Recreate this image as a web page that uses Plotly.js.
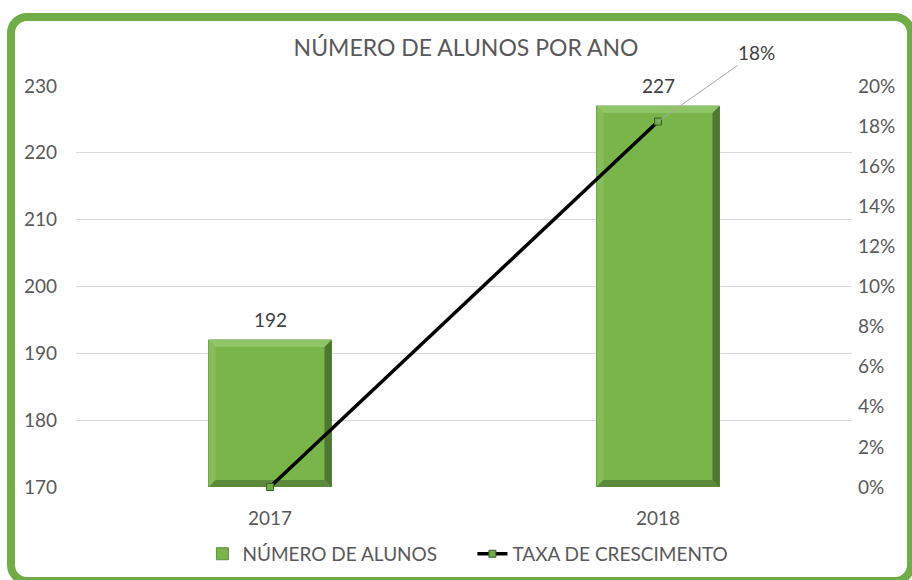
<!DOCTYPE html>
<html>
<head>
<meta charset="utf-8">
<script src="https://cdn.plot.ly/plotly-3.0.1.min.js"></script>
<style>
  html, body { margin: 0; padding: 0; background: #ffffff; overflow: hidden; }
  #frame { position: absolute; left: 7px; top: 13px; width: 908px; height: 572px;
           box-sizing: border-box; border: 8px solid #70AD47; border-radius: 20px; }
  #chart { position: absolute; left: 0; top: 0; width: 912px; height: 580px; }
</style>
</head>
<body>
<div id="frame"></div>
<div id="chart"></div>
<script>
// ---- data ----
const years = ['2017', '2018'];
const students = [192, 227];
const growth = [0, 0.1823];
const growthLabels = ['', '18%'];
const leftTicks = [170, 180, 190, 200, 210, 220, 230];
const rightTicks = [0, 0.02, 0.04, 0.06, 0.08, 0.10, 0.12, 0.14, 0.16, 0.18, 0.20];

// ---- layout constants ----
const W = 912, H = 580;
const M = { l: 76, r: 60, t: 86, b: 93 };
const yMin = 170, yMax = 230;
const xMin = -0.5, xMax = 1.5;
const barWidth = 0.317;
const bevelPx = 7;
const plotW = W - M.l - M.r, plotH = H - M.t - M.b;
const xPerPx = (xMax - xMin) / plotW;
const yPerPx = (yMax - yMin) / plotH;
const xIdx = years.map((_, i) => i);

const faceColor = '#79B548';

// bevel polygons computed from the data values
function bevelTrace(which, color) {
  const xs = [], ys = [];
  const bx = bevelPx * xPerPx, by = bevelPx * yPerPx;
  students.forEach((v, i) => {
    const xl = i - barWidth / 2, xr = i + barWidth / 2, b = yMin;
    let pts;
    if (which === 'top') pts = [[xl, v], [xr, v], [xr - bx, v - by], [xl + bx, v - by]];
    if (which === 'left') pts = [[xl, v], [xl + bx, v - by], [xl + bx, b + by], [xl, b]];
    if (which === 'right') pts = [[xr, v], [xr, b], [xr - bx, b + by], [xr - bx, v - by]];
    if (which === 'bottom') pts = [[xl, b], [xr, b], [xr - bx, b + by], [xl + bx, b + by]];
    pts.forEach(p => { xs.push(p[0]); ys.push(p[1]); });
    xs.push(pts[0][0]); ys.push(pts[0][1]);
    xs.push(null); ys.push(null);
  });
  return {
    type: 'scatter', x: xs, y: ys, mode: 'lines', fill: 'toself',
    fillcolor: color, line: { width: 0, color: color },
    showlegend: false, hoverinfo: 'skip', xaxis: 'x', yaxis: 'y'
  };
}

const traces = [
  {
    type: 'bar', x: xIdx, y: students.map(v => v - yMin), base: yMin,
    width: barWidth, name: 'NÚMERO DE ALUNOS',
    marker: { color: faceColor, line: { color: '#5E8F3C', width: 1 } },
    xaxis: 'x', yaxis: 'y', hovertemplate: '%{x}: %{customdata}<extra></extra>',
    customdata: students
  },
  bevelTrace('top', '#8FC566'),
  bevelTrace('left', '#85BD59'),
  bevelTrace('right', '#4C7830'),
  bevelTrace('bottom', '#5A8A3A'),
  {
    type: 'scatter', x: xIdx, y: growth, mode: 'lines+markers',
    name: 'TAXA DE CRESCIMENTO', xaxis: 'x', yaxis: 'y2',
    line: { color: '#000000', width: 3.5 },
    marker: { symbol: 'square', size: 7, color: '#70AD47', line: { color: '#3B5E26', width: 1 } },
    cliponaxis: false
  }
];

const font = 'Lato, "Open Sans", sans-serif';
const txt = '#595959';

const annotations = students.map((v, i) => ({
  x: i, y: v, xref: 'x', yref: 'y', text: String(v), showarrow: false,
  yanchor: 'bottom', yshift: 7, font: { family: font, size: 19, color: '#404040' }
}));
growth.forEach((g, i) => {
  if (growthLabels[i]) {
    annotations.push({
      x: i, y: g, xref: 'x', yref: 'y2', text: growthLabels[i],
      showarrow: true, arrowhead: 0, arrowwidth: 1, arrowcolor: '#A6A6A6',
      ax: 98, ay: -69, standoff: 0,
      font: { family: font, size: 19, color: '#404040' }
    });
  }
});

const layout = {
  width: W, height: H,
  margin: M,
  paper_bgcolor: 'rgba(0,0,0,0)', plot_bgcolor: 'rgba(0,0,0,0)',
  font: { family: font, color: txt },
  title: { text: 'NÚMERO DE ALUNOS POR ANO', x: 0.511, xanchor: 'center', y: 0.918, yanchor: 'middle',
           font: { family: font, size: 23, color: txt } },
  showlegend: true,
  legend: { orientation: 'h', xref: 'container', yref: 'container', x: 0.518, xanchor: 'center',
            y: 0.045, yanchor: 'middle', entrywidth: 225, entrywidthmode: 'pixels',
            font: { family: font, size: 19, color: txt }, itemwidth: 30, traceorder: 'normal' },
  xaxis: {
    range: [xMin, xMax], tickvals: xIdx, ticktext: years, showgrid: false, zeroline: false,
    showline: false, ticks: '', tickfont: { family: font, size: 19, color: txt }, ticklabelstandoff: 18,
    fixedrange: true, automargin: false
  },
  yaxis: {
    range: [yMin, yMax], tickvals: leftTicks, showgrid: true, gridcolor: '#D9D9D9', gridwidth: 1,
    zeroline: false, showline: false, ticks: '', tickfont: { family: font, size: 19, color: txt },
    ticklabelstandoff: 18, fixedrange: true, automargin: false
  },
  yaxis2: {
    range: [0, 0.2], tickvals: rightTicks, tickformat: '.0%', overlaying: 'y', side: 'right',
    showgrid: false, zeroline: false, showline: false, ticks: '',
    tickfont: { family: font, size: 19, color: txt }, ticklabelstandoff: 5, fixedrange: true,
    automargin: false
  },
  annotations: annotations
};

Plotly.newPlot('chart', traces, layout, { displayModeBar: false, responsive: false });
</script>
</body>
</html>
